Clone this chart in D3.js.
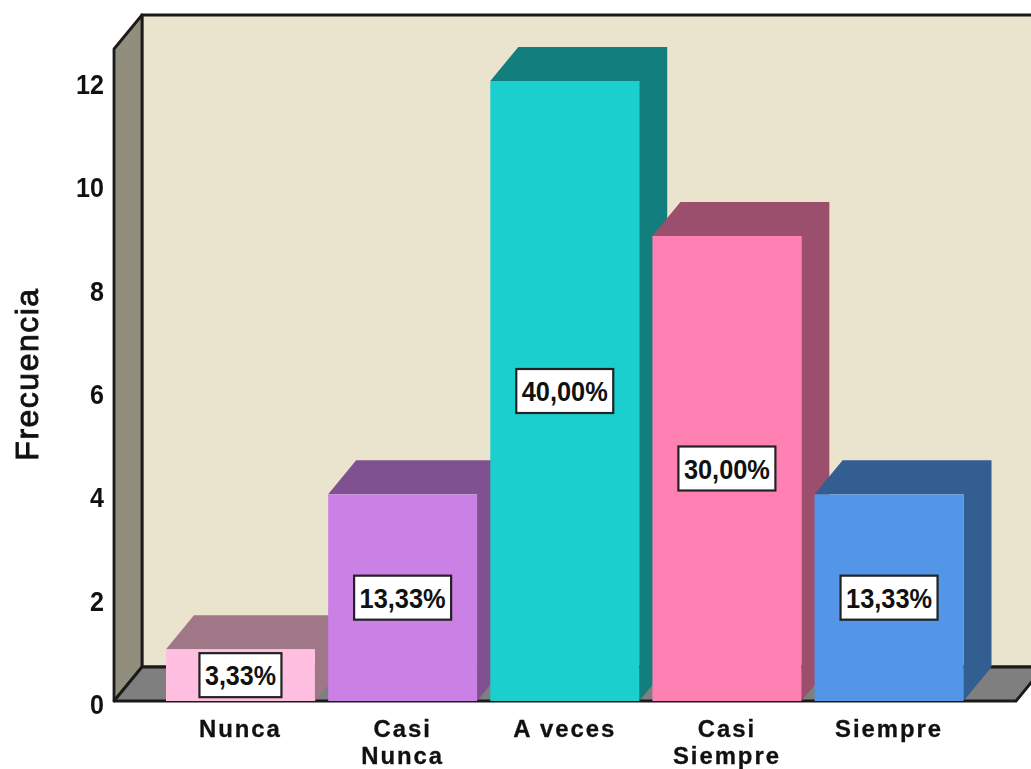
<!DOCTYPE html>
<html>
<head>
<meta charset="utf-8">
<script src="https://cdnjs.cloudflare.com/ajax/libs/d3/7.8.5/d3.min.js"></script>
<style>
html,body{margin:0;padding:0;background:#fff;overflow:hidden}
svg{display:block;filter:blur(0.45px)}
text{font-family:"Liberation Sans",Arial,sans-serif;fill:#111}
</style>
</head>
<body>
<svg id="chart" width="1031" height="769"></svg>
<script>
const categories = ["Nunca", "Casi Nunca", "A veces", "Casi Siempre", "Siempre"];
const values = [1, 4, 12, 9, 4];
const percentLabels = ["3,33%", "13,33%", "40,00%", "30,00%", "13,33%"];
const frontColors = ["#FFBFE0", "#CB80E6", "#1CCFCF", "#FF80B3", "#5395E6"];
const shadeColors = ["#9F7787", "#7F5190", "#127E7E", "#9C4F6C", "#335E91"];
const yTicks = [0, 2, 4, 6, 8, 10, 12];
const yTitle = "Frecuencia";

const depthX = 28, depthY = 34;
const floorY = 701, topY = 81;
const svg = d3.select("#chart");

const y = d3.scaleLinear().domain([0, 12]).range([floorY, topY]);
const x = d3.scaleBand().domain(categories).range([166, 963.5]).paddingInner(0.0817).paddingOuter(0);

const pts = a => a.join(" ");
const wallLeft = 114, wallRight = 1060, wallTopY = 15;
const backX = wallLeft + depthX, backBottom = floorY - depthY;

// back wall
svg.append("polygon").attr("points", pts([[backX, wallTopY], [wallRight, wallTopY], [wallRight, backBottom], [backX, backBottom]]))
  .attr("fill", "#EAE3CE").attr("stroke", "#1a1a1a").attr("stroke-width", 2.8);
// left wall
svg.append("polygon").attr("points", pts([[wallLeft, wallTopY + depthY], [backX, wallTopY], [backX, backBottom], [wallLeft, floorY]]))
  .attr("fill", "#918E7E").attr("stroke", "#1a1a1a").attr("stroke-width", 2.8).attr("stroke-linejoin", "round");
// floor
svg.append("polygon").attr("points", pts([[wallLeft, floorY], [backX, backBottom], [1044, backBottom], [1016, floorY]]))
  .attr("fill", "#7F7F7F").attr("stroke", "#1a1a1a").attr("stroke-width", 2.8).attr("stroke-linejoin", "round");

// bars
const bars = svg.append("g").selectAll("g").data(categories).join("g");
bars.each(function (c, i) {
  const g = d3.select(this);
  const x0 = x(c), x1 = x0 + x.bandwidth(), yv = y(values[i]), yb = y(0);
  g.append("polygon").attr("points", pts([[x0, yv], [x0 + depthX, yv - depthY], [x1 + depthX, yv - depthY], [x1 + depthX, yb - depthY], [x1, yb], [x1, yv]]))
    .attr("fill", shadeColors[i]);
  g.append("rect").attr("x", x0).attr("y", yv).attr("width", x.bandwidth()).attr("height", yb - yv)
    .attr("fill", frontColors[i]);
});

// value labels
const labelW = [82, 97, 97, 97, 97], labelH = 44;
const labels = svg.append("g").selectAll("g").data(categories).join("g")
  .attr("transform", (c, i) => `translate(${x(c) + x.bandwidth() / 2},${y(values[i] / 2)})`);
labels.append("rect")
  .attr("x", (c, i) => -labelW[i] / 2).attr("y", -labelH / 2)
  .attr("width", (c, i) => labelW[i]).attr("height", labelH)
  .attr("fill", "#fff").attr("stroke", "#222").attr("stroke-width", 2.2);
labels.append("text").attr("text-anchor", "middle").attr("y", 10)
  .attr("font-size", 27).attr("font-weight", "bold")
  .attr("textLength", (c, i) => labelW[i] - 11)
  .attr("lengthAdjust", "spacingAndGlyphs")
  .text((c, i) => percentLabels[i]);

// y axis
const axis = svg.append("g").attr("transform", "translate(104,3)")
  .call(d3.axisLeft(y).tickValues(yTicks).tickSize(0).tickPadding(0));
axis.select(".domain").remove();
axis.selectAll("text").attr("font-size", 27).attr("font-weight", "bold")
  .attr("font-family", '"Liberation Sans",Arial,sans-serif').attr("fill", "#111")
  .attr("dy", "0.35em").attr("transform", "scale(0.93,1)");

// y title
svg.append("text").attr("transform", "translate(38,374) rotate(-90)")
  .attr("text-anchor", "middle").attr("font-size", 32)
  .attr("letter-spacing", 1.5).attr("stroke", "#111").attr("stroke-width", 0.9)
  .text(yTitle);

// category labels, one text per line
const catLines = categories.flatMap(c => {
  const lines = c.startsWith("Casi") ? c.split(" ") : [c];
  return lines.map((l, k) => ({ c, l, k }));
});
svg.append("g").selectAll("text").data(catLines).join("text")
  .attr("transform", d => `translate(${x(d.c) + x.bandwidth() / 2},${736.5 + d.k * 27.3}) scale(0.98,1)`)
  .attr("text-anchor", "middle").attr("font-size", 24.4).attr("font-weight", "bold")
  .attr("letter-spacing", 2).attr("stroke", "#111").attr("stroke-width", 0.3)
  .text(d => d.l);
</script>
</body>
</html>
